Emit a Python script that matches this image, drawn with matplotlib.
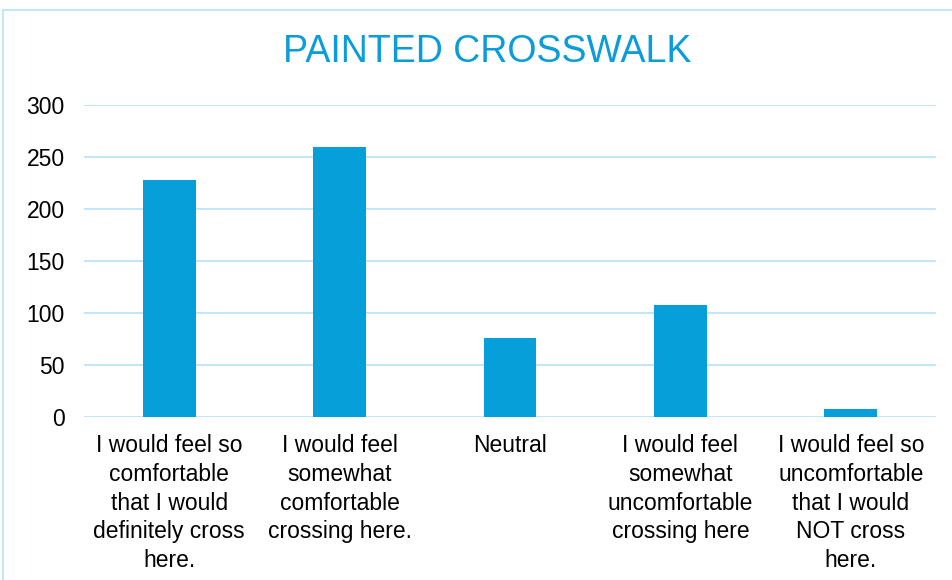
import matplotlib
matplotlib.use("Agg")
import matplotlib.pyplot as plt
from matplotlib.lines import Line2D

categories = [
    "I would feel so\ncomfortable\nthat I would\ndefinitely cross\nhere.",
    "I would feel\nsomewhat\ncomfortable\ncrossing here.",
    "Neutral",
    "I would feel\nsomewhat\nuncomfortable\ncrossing here",
    "I would feel so\nuncomfortable\nthat I would\nNOT cross\nhere.",
]
counts = [228, 260, 76, 108, 8]
yticks = [0, 50, 100, 150, 200, 250, 300]

bar_color = "#069FDA"
grid_color = "#C2E7F8"

plt.rcParams["font.family"] = ["Liberation Sans", "DejaVu Sans"]

fig = plt.figure(figsize=(9.53, 5.8), dpi=100)
ax = fig.add_axes([84 / 953, 1 - 417 / 580, (936 - 84) / 953, (417 - 105) / 580])

x = list(range(len(categories)))
ax.bar(x, counts, width=0.31, color=bar_color, zorder=3)

ax.set_ylim(0, 300)
ax.set_xlim(-0.5, len(categories) - 0.5)
ax.set_yticks(yticks)
ax.set_yticklabels([str(v) for v in yticks], fontsize=16.5)
ax.set_xticks(x)
ax.set_xticklabels(categories, fontsize=16.5, linespacing=1.33, va="top")
ax.tick_params(axis="x", length=0, pad=12)
ax.tick_params(axis="y", length=0, pad=14)
ax.yaxis.grid(True, color=grid_color, linewidth=1.4, zorder=0)
for s in ax.spines.values():
    s.set_visible(False)

fig.text(487 / 953, 1 - 52 / 580, "PAINTED CROSSWALK", ha="center", va="center",
         fontsize=27, color="#0B9CDA")

# chart frame (top and left edges visible)
fig.add_artist(Line2D([3.5 / 953, 3.5 / 953], [0, 1 - 10 / 580], color=grid_color,
                      linewidth=1.5, transform=fig.transFigure))
fig.add_artist(Line2D([3.5 / 953, 1], [1 - 10 / 580, 1 - 10 / 580], color=grid_color,
                      linewidth=1.5, transform=fig.transFigure))

fig.savefig("out.png", dpi=100)
